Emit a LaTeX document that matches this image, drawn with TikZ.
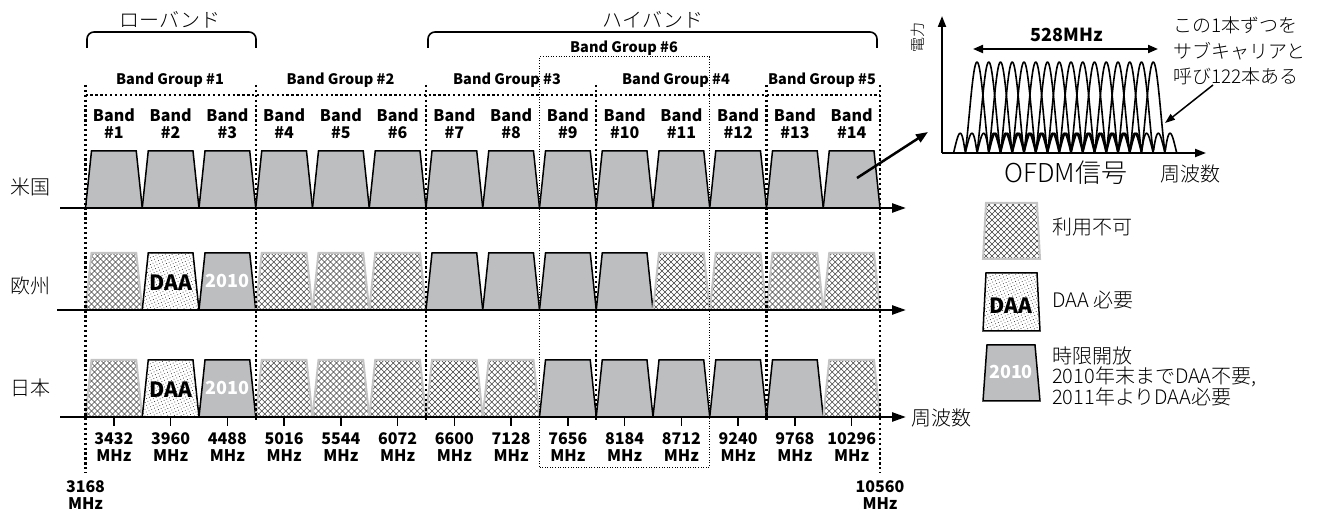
\documentclass[tikz,border=0pt]{standalone}
\usepackage{fontspec}
\setmainfont{Noto Sans CJK JP}
\newfontfamily\jpl{Noto Sans CJK JP Light}
\usetikzlibrary{arrows.meta,patterns.meta}
\definecolor{bandgray}{RGB}{188,190,192}
\definecolor{hatchedge}{RGB}{196,196,196}
\begin{document}
\begin{tikzpicture}[x=1pt,y=-1pt,
  bandA/.style={fill=bandgray,draw=black,line width=1.5pt},
  bandT/.style={fill=bandgray,draw=black,line width=1.5pt},
  hline/.style={line width=0.65pt,draw=black!75},
  bandN/.style={fill=white,draw=hatchedge,line width=2pt,
     path picture={
       \foreach \t in {-72,-66,...,66}{
         \draw[hline] ([xshift=\t pt]path picture bounding box.south west) -- ++(72pt,72pt);
         \draw[hline] ([xshift=\t pt,yshift=72pt]path picture bounding box.south west) -- ++(72pt,-72pt);
       }}},
  bandD/.style={preaction={fill=white},
     preaction={pattern={Dots[radius=0.5pt,distance=3pt,angle=25]},pattern color=black!85},
     draw=black,line width=1.5pt},
  lbl/.style={font=\bfseries\fontsize{16}{17}\selectfont,align=center,inner sep=0pt},
  grp/.style={font=\bfseries\fontsize{14.5}{15}\selectfont,inner sep=0pt},
  jp/.style={font=\jpl\fontsize{20}{21}\selectfont,inner sep=0pt},
  inlbl/.style={font=\bfseries\fontsize{21}{21}\selectfont,inner sep=0pt},
  yrlbl/.style={font=\bfseries\fontsize{18}{18}\selectfont,text=white,inner sep=0pt},
  axisline/.style={line width=2.5pt,-{Triangle[length=14pt,width=9pt]}},
  thickdot/.style={line width=2.3pt,dash pattern=on 2.3pt off 2.6pt},
  thindot/.style={line width=1pt,dash pattern=on 1pt off 1.6pt},
  bracketline/.style={line width=1.6pt,rounded corners=7pt},
  tick/.style={line width=1.5pt},
  curve/.style={line width=1.6pt,line join=round}
]
\useasboundingbox (0,0) rectangle (1320,510);

% ---- bands ----
\foreach \s [count=\i] in {bandA,bandA,bandA,bandA,bandA,bandA,bandA,bandA,bandA,bandA,bandA,bandA,bandA,bandA}{
  \pgfmathsetmacro\bxl{85.5+(\i-1)*56.75}
  \pgfmathsetmacro\bxr{\bxl+56.75}
  \path[\s] (\bxl,208) -- (\bxl+6,151) -- (\bxr-6,151) -- (\bxr,208) -- cycle;
}
\foreach \s [count=\i] in {bandN,bandD,bandT,bandN,bandN,bandN,bandA,bandA,bandA,bandA,bandN,bandN,bandN,bandN}{
  \pgfmathsetmacro\bxl{85.5+(\i-1)*56.75}
  \pgfmathsetmacro\bxr{\bxl+56.75}
  \path[\s] (\bxl,310) -- (\bxl+6,253) -- (\bxr-6,253) -- (\bxr,310) -- cycle;
}
\foreach \s [count=\i] in {bandN,bandD,bandT,bandN,bandN,bandN,bandN,bandN,bandA,bandA,bandA,bandA,bandA,bandN}{
  \pgfmathsetmacro\bxl{85.5+(\i-1)*56.75}
  \pgfmathsetmacro\bxr{\bxl+56.75}
  \path[\s] (\bxl,417) -- (\bxl+6,360) -- (\bxr-6,360) -- (\bxr,417) -- cycle;
}
\node[inlbl] (euDAA) at (170.6,283) {DAA};
\node[yrlbl] (eu2010) at (227.4,281) {2010};
\node[inlbl] (jpDAA) at (170.6,390) {DAA};
\node[yrlbl] (jp2010) at (227.4,388) {2010};

% ---- dotted group lines ----
\draw[thickdot] (85.5,95) -- (880,95);
\draw[thickdot] (85.5,85) -- (85.5,473);
\draw[thickdot] (880,85) -- (880,473);
\foreach \gx in {255.75,426,596.25,766.5}{
  \draw[thickdot] (\gx,85) -- (\gx,421);
}
\draw[thindot] (539.5,467) -- (539.5,57) -- (709.75,57) -- (709.75,467) -- cycle;

% ---- group labels ----
\node[grp] (bg1) at (170,80) {Band Group \#1};
\node[grp] (bg2) at (340.5,80) {Band Group \#2};
\node[grp] (bg3) at (507,80) {Band Group \#3};
\node[grp] (bg4) at (676,80) {Band Group \#4};
\node[grp] (bg5) at (822,80) {Band Group \#5};
\node[grp] (bg6) at (624,48) {Band Group \#6};

% ---- brackets ----
\draw[bracketline] (87,48) -- (87,32) -- (256,32) -- (256,48);
\draw[bracketline] (428,48) -- (428,32) -- (877,32) -- (877,48);
\node[jp] (low) at (170,20) {ローバンド};
\node[jp] (high) at (653,20) {ハイバンド};

% ---- band labels, ticks, freqs ----
\foreach \i in {1,...,14}{
  \pgfmathsetmacro\bc{85.5+(\i-0.5)*56.75}
  \pgfmathtruncatemacro\fq{2904+528*\i}
  \node[lbl] (bl\i) at (\bc,124) {Band\\\#\i};
  \draw[tick] (\bc,417) -- (\bc,426);
  \node[lbl] (fq\i) at (\bc,447) {\fq\\MHz};
}
\node[lbl] (fstart) at (85.5,495) {3168\\MHz};
\node[lbl] (fend) at (880,495) {10560\\MHz};

% ---- axes ----
\coordinate (usL) at (60,208);  \coordinate (usR) at (906,208);
\coordinate (euL) at (57,310);  \coordinate (euR) at (906,310);
\coordinate (jpL) at (60,417);  \coordinate (jpR) at (906,417);
\draw[axisline] (usL) -- (usR);
\draw[axisline] (euL) -- (euR);
\draw[axisline] (jpL) -- (jpR);
\node[jp] (us) at (30,187) {米国};
\node[jp] (eu) at (30,286) {欧州};
\node[jp] (ja) at (30,388) {日本};
\node[jp,anchor=west] (freq) at (911,418) {周波数};

% ---- OFDM inset ----
\coordinate (o) at (942,153);
\coordinate (ytop) at (942,16);
\coordinate (xend) at (1206,153);
\foreach \k in {0,...,15}{
  \pgfmathsetmacro\cc{977+\k*11.75}
  \draw[curve] plot[domain=-2:2,samples=80] ({\cc+\x*11.75},{153-91*abs(sin(180*\x)/(3.14159*\x))});
}
\draw[line width=2pt,-{Triangle[length=11pt,width=8pt]}] (o) -- (ytop);
\draw[line width=2pt,-{Triangle[length=11pt,width=8pt]}] (o) -- (xend);
\node[font=\jpl\fontsize{15}{15}\selectfont,rotate=90,inner sep=0pt] (power) at (918,38) {電力};
\coordinate (wl) at (973,49); \coordinate (wr) at (1158,49);
\draw[line width=2pt,{Triangle[length=10pt,width=8pt]}-{Triangle[length=10pt,width=8pt]}] (wl) -- (wr);
\node[font=\bfseries\fontsize{18}{18}\selectfont,inner sep=0pt] (bw) at (1067,35) {528MHz};
\node[font=\jpl\fontsize{26}{26}\selectfont,inner sep=0pt] (ofdm) at (1066,173) {OFDM信号};
\node[jp] (ofreq) at (1190,174) {周波数};
\node[font=\jpl\fontsize{19}{25.5}\selectfont,align=left,anchor=west,inner sep=0pt] (note) at (1173,51) {この1本ずつを\\サブキャリアと\\呼び122本ある};
\coordinate (noteA) at (1213,85); \coordinate (noteB) at (1165,123);
\draw[line width=1.5pt,-{Triangle[length=10pt,width=7pt]}] (noteA) -- (noteB);
\coordinate (b14) at (857,178); \coordinate (insetA) at (928,132);
\draw[line width=2.5pt,-{Triangle[length=12pt,width=9pt]}] (b14) -- (insetA);

% ---- legend ----
\path[bandN] (983,259) -- (986,203) -- (1037,203) -- (1040,259) -- cycle;
\path[bandD] (983,331) -- (986,273) -- (1037,273) -- (1040,331) -- cycle;
\path[bandT] (983,401) -- (987,345) -- (1035,345) -- (1040,401) -- cycle;
\node[inlbl] (lgDAA) at (1011,306) {DAA};
\node[yrlbl] (lg2010) at (1011,372) {2010};
\node[jp,anchor=west] (lg1) at (1052,227) {利用不可};
\node[jp,anchor=west] (lg2) at (1052,300) {DAA 必要};
\node[font=\jpl\fontsize{20}{20.5}\selectfont,align=left,anchor=west,inner sep=0pt] (lg3) at (1052,376) {時限開放\\2010年末までDAA不要,\\2011年よりDAA必要};
\end{tikzpicture}
\end{document}
